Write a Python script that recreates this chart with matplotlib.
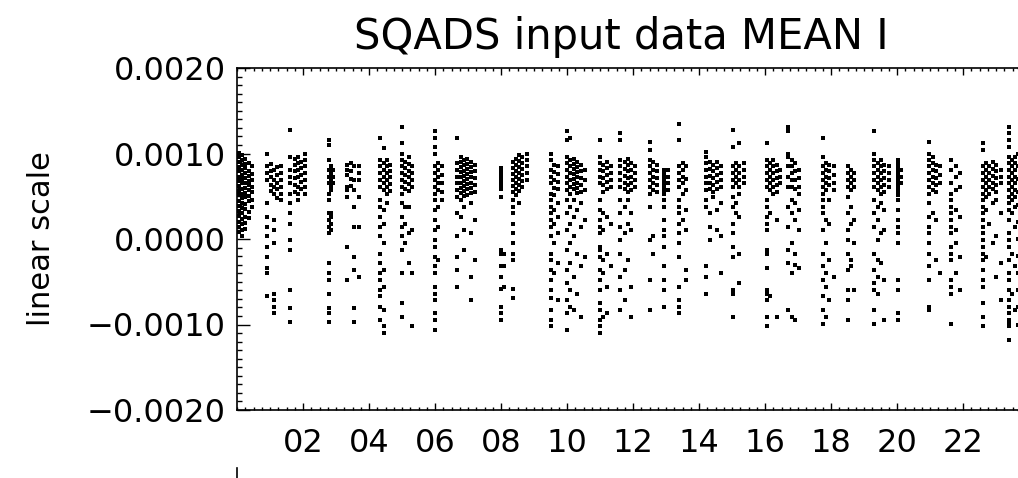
import numpy as np
import matplotlib.pyplot as plt
from matplotlib.lines import Line2D

# hour of each column of points, and the values in that column (units of 1e-4)
col_hours = [0.05, 0.15, 0.25, 0.35, 0.45,
             0.92, 1.02, 1.12, 1.22, 1.32,
             1.62, 1.75, 1.85, 1.95, 2.05,
             2.78, 2.86, 2.92,
             3.33, 3.45, 3.55, 3.70,
             4.33, 4.45, 4.55, 4.65,
             5.00, 5.10, 5.20, 5.30,
             6.00, 6.10, 6.20,
             6.68, 6.78, 6.88, 6.98, 7.08, 7.20,
             8.00, 8.08,
             8.35, 8.45, 8.55, 8.65, 8.80,
             9.50, 9.60, 9.72,
             10.00, 10.10, 10.20, 10.30, 10.42, 10.55,
             11.00, 11.10, 11.20, 11.32,
             11.62, 11.75, 11.85, 11.95, 12.05,
             12.52, 12.62, 12.72,
             12.95, 13.05,
             13.40, 13.50, 13.62,
             14.22, 14.32, 14.42, 14.55, 14.68,
             15.02, 15.12, 15.22, 15.35,
             16.05, 16.15, 16.25, 16.35, 16.45,
             16.70, 16.82, 16.92, 17.02,
             17.75, 17.85, 17.95, 18.10,
             18.50, 18.60, 18.70,
             19.30, 19.42, 19.52, 19.62, 19.75,
             20.02, 20.12,
             20.98, 21.08, 21.18, 21.30,
             21.65, 21.78, 21.92,
             22.60, 22.70, 22.80, 22.90, 23.00, 23.15,
             23.38, 23.48, 23.58, 23.66]

col_values = [
    [10.1, 9.6, 9.0, 8.4, 7.9, 7.3, 6.8, 6.2, 5.6, 5.1, 4.5, 3.9, 3.3, 2.7, 2.0, 1.4, 0.8],
    [9.8, 9.2, 8.7, 8.1, 7.5, 7.0, 6.5, 5.9, 5.3, 4.8, 4.2, 3.6, 3.0, 2.3, 1.7, 1.0, 0.4],
    [9.4, 8.8, 8.3, 7.7, 7.1, 6.6, 6.0, 5.4, 4.9, 4.1, 3.5, 2.6, 1.9, 1.2],
    [8.9, 8.0, 7.4, 6.8, 6.3, 5.7, 5.0, 4.4, 3.2, 2.4],
    [8.5, 7.6, 6.9, 6.1, 5.5, 4.6, 3.7],
    [10.0, 8.5, 7.7, 6.9, 4.2, 2.6, 1.4, 0.3, -0.9, -2.1, -3.4, -4.0, -6.7],
    [8.8, 8.0, 7.2, 6.3, 5.6],
    [8.1, 6.9, 6.1, 5.3, 2.2, 1.1, -0.5, -6.4, -7.1, -7.9, -8.7],
    [8.4, 7.5, 6.6, 5.8, 4.8],
    [8.5, 7.7, 6.9, 6.1, 5.3, 4.6],
    [12.8, 9.6, 8.1, 7.3, 6.5, 5.3, 4.2, 3.0, 1.8, -0.1, -1.3, -6.0, -8.1, -9.7],
    [9.4, 8.7, 7.9, 7.1, 6.3, 5.5],
    [9.6, 8.9, 8.1, 7.3, 6.1, 5.3, 4.6],
    [9.0, 8.3, 7.5, 6.7, 5.9],
    [10.0, 9.2, 8.5, 7.7, 6.9, 6.1, 5.3],
    [11.6, 11.0, 9.2, 8.1, 7.3, 6.5, 5.3, 4.6, 3.0, 2.2, 1.4, 0.7, -2.8, -4.0, -4.8, -6.4, -8.1, -8.7, -9.7],
    [8.5, 7.7, 6.9, 6.1, 5.7, 3.0, 2.6, 1.8, 1.1],
    [8.1, 7.3, 6.5],
    [8.7, 8.1, 7.5, 6.1, 5.7, 4.9, -0.9, -4.8],
    [8.9, 7.9, 7.0, 6.2],
    [8.5, 6.9, 5.7, 3.8, 1.4, -2.1, -3.6, -8.1, -9.7],
    [8.5, 7.7, 6.9, 4.9, 1.4, -4.4],
    [11.8, 9.2, 8.5, 7.7, 6.9, 6.1, 4.6, 3.8, 2.6, 1.4, 0.3, -1.7, -2.8, -4.0, -4.8, -6.0, -6.7, -7.9, -9.5],
    [10.6, 8.9, 8.1, 7.3, 6.5, 5.7, 3.4, 1.8, -0.5, -3.6, -5.6, -8.3, -10.2, -11.0],
    [9.2, 8.5, 7.7, 6.9, 6.1, 5.3, 4.2],
    [8.7, 8.0, 7.2, 6.4, 5.6],
    [13.1, 11.2, 10.0, 9.2, 8.5, 7.7, 6.9, 6.1, 5.3, 4.2, 2.6, 1.4, 0.3, -1.3, -4.0, -7.5, -9.1],
    [9.0, 8.3, 7.5, 6.7, 5.9, 3.8, 1.8, -0.5],
    [9.6, 8.8, 8.0, 7.2, 6.4, 5.6, 3.8, 0.7, -2.8],
    [8.5, 7.7, 6.9, 6.1, 1.1, -4.0, -10.2],
    [12.6, 11.8, 10.8, 10.0, 8.5, 7.7, 6.9, 6.1, 5.3, 4.6, 3.4, 2.2, 1.1, -0.1, -0.9, -2.1, -3.2, -4.0,
     -5.6, -6.4, -7.1, -8.7, -9.5, -10.6],
    [8.9, 8.1, 7.3, 6.5, 5.7, 3.8, 1.4, -2.5],
    [8.5, 7.5, 6.5, 5.5, 4.6],
    [11.8, 8.9, 8.1, 7.3, 6.5, 5.7, 4.9, 3.0, 0.3, -2.1, -3.6, -5.6],
    [9.6, 9.0, 8.4, 7.8, 7.2, 6.6, 6.0, 5.4, 4.6, 2.6],
    [9.2, 8.6, 8.0, 7.4, 6.8, 6.2, 5.6, 5.0, 3.8, 1.1, -1.3],
    [9.4, 8.8, 8.2, 7.6, 7.0, 6.4, 5.8, 5.2],
    [9.0, 8.4, 7.8, 7.2, 6.6, 6.0, 5.4, 4.2, 0.7, -4.4, -7.1],
    [8.7, 7.9, 7.1, 6.3, 5.5, 2.2, -2.5],
    [8.3, 8.0, 7.7, 7.4, 7.1, 6.8, 6.5, 6.2, 5.9, 4.9, -1.3, -1.7, -3.2, -4.4, -5.8, -7.9, -8.7, -9.5],
    [-1.7, -3.2, -5.6],
    [9.0, 8.3, 7.6, 6.9, 6.2, 5.5, 4.6, 3.8, 3.0, 1.8, 0.7, -0.5, -1.7, -2.5, -5.8, -6.9],
    [9.4, 8.7, 8.0, 7.3, 6.6, 5.9, 5.2],
    [9.8, 9.1, 8.4, 7.7, 7.0, 6.3, 5.6, 4.2],
    [9.6, 8.9, 8.2, 7.5, 6.8, 6.1],
    [10.0, 9.2, 8.5, 7.7, 6.9],
    [10.0, 9.2, 8.1, 7.3, 6.5, 5.3, 4.6, 3.8, 3.0, 2.2, 1.4, 0.3, -1.7, -2.5, -3.6, -4.8, -6.0, -6.9,
     -8.3, -9.5, -10.2],
    [8.7, 7.8, 6.9, 6.0, 5.1, 3.4, 1.8, -0.5, -4.0],
    [8.5, 7.6, 6.7, 5.8, 4.2, 2.6, 0.7, -2.8, -7.1],
    [12.6, 11.6, 9.6, 8.9, 8.1, 7.3, 6.5, 5.7, 4.6, 3.0, 1.1, -1.3, -3.6, -5.2, -7.1, -8.7, -10.6],
    [11.8, 9.2, 8.5, 7.7, 6.9, 6.1, 5.3, 3.8, 1.8, -0.5, -2.8, -6.0, -7.9],
    [9.4, 8.8, 8.2, 7.6, 7.0, 6.4, 5.8, 4.6, 2.6, 0.3, -4.4, -8.3],
    [9.0, 8.4, 7.8, 7.2, 6.6, 6.0, 5.4, 3.4, -1.7, -6.4],
    [8.7, 7.9, 7.1, 6.3, 5.5, 4.2, 1.4, -3.2, -9.1],
    [8.1, 6.9, 5.7, 2.2, -2.1],
    [11.6, 9.6, 8.9, 8.1, 7.3, 6.5, 4.6, 3.4, 2.2, 1.4, 0.7, -0.9, -1.3, -2.1, -3.6, -4.8, -6.0, -7.5,
     -8.3, -9.5, -10.2, -11.0],
    [8.7, 7.9, 7.1, 6.3, 5.5, 3.0, 1.1, -2.5, -4.0, -9.1],
    [9.0, 8.3, 7.5, 6.7, 5.9, 2.6, -1.7, -5.6, -8.7],
    [8.5, 7.7, 6.9, 6.1, 1.8, -3.2],
    [12.4, 11.6, 9.2, 8.5, 7.7, 6.9, 6.1, 4.6, 3.0, 1.4, -0.1, -1.7, -4.4, -6.0, -8.3],
    [9.0, 8.2, 7.4, 6.6, 5.8, 3.8, 0.7, -3.6, -7.1],
    [9.4, 8.7, 7.9, 7.1, 6.3, 5.5, 4.6, 1.8, -2.5],
    [8.9, 8.1, 7.3, 6.5, 5.7, 3.0, 1.1, -5.6, -9.1],
    [8.5, 7.7, 6.9, 6.1],
    [11.4, 10.4, 9.2, 8.5, 7.7, 6.9, 6.1, 5.3, 3.8, -0.1, -4.8, -8.3],
    [9.0, 8.1, 7.3, 6.5, 5.7, 0.3, -1.7],
    [8.7, 7.9, 7.1, 6.3, 5.5],
    [8.1, 7.7, 7.3, 6.9, 6.5, 6.1, 5.7, 5.3, 4.6, 3.8, 2.2, 1.1, 0.3, -0.9, -3.2, -4.8, -6.0, -7.9],
    [8.1, 7.3, 6.5, 5.7],
    [13.5, 11.6, 8.5, 7.7, 6.9, 6.1, 4.6, 3.8, 3.0, 1.8, 0.7, -0.5, -2.1, -5.6, -7.1, -7.9, -8.7],
    [8.9, 8.1, 7.3, 6.5, 5.3, 2.2],
    [8.5, 7.0, 5.7, 3.4, 1.1, -3.6, -4.8],
    [10.2, 9.6, 8.9, 8.1, 7.3, 6.5, 5.7, 4.6, 3.8, -3.2, -4.4, -6.4],
    [9.0, 8.2, 7.4, 6.6, 5.8, 3.0, 1.4, -0.1],
    [8.7, 7.9, 7.1, 6.3, 5.5, 4.9],
    [9.0, 8.3, 7.5, 6.7, 5.9, 3.4, 1.1],
    [8.5, 7.7, 6.9, 6.1, 4.2, 0.3, -4.0],
    [12.8, 10.8, 8.5, 7.7, 6.9, 6.1, 4.9, 3.8, 1.8, 0.7, -0.9, -2.1, -6.0, -6.4, -9.1],
    [8.9, 8.1, 7.3, 6.5, 4.2, 3.0],
    [11.2, 8.5, 7.7, 6.9, 6.1, 5.3, 2.6, -1.7, -5.2],
    [8.9, 8.1, 7.3, 6.5],
    [11.2, 9.2, 8.5, 7.7, 6.9, 6.1, 4.6, 3.8, 2.6, 1.8, 1.1, -1.3, -1.7, -3.4, -6.0, -6.4, -7.1, -9.1, -10.2],
    [8.9, 8.1, 7.3, 6.5, 5.7, 3.0, -6.7],
    [9.2, 8.5, 7.7, 6.9, 6.1, 5.3],
    [8.7, 7.9, 7.1, 6.3, 5.5, 2.2, -9.1],
    [8.1, 7.3, 6.5],
    [13.1, 12.6, 10.0, 9.6, 8.5, 7.3, 6.1, 3.8, 1.4, -1.3, -2.8, -8.3],
    [9.2, 8.5, 7.7, 6.9, 6.1, 4.6, 3.0, -0.5, -4.0, -9.1],
    [8.9, 7.9, 6.9, 5.9, 4.2, 2.2, -1.7, -3.0, -9.5],
    [8.1, 7.1, 6.1, 5.3, 3.4, 1.1, -3.4],
    [11.8, 9.6, 8.5, 7.7, 6.9, 6.1, 5.3, 4.6, 3.8, 3.0, 1.1, -1.7, -3.2, -4.8, -6.7, -8.3, -9.9],
    [8.9, 8.1, 7.3, 6.5, 5.7, 2.2, -0.5, -4.0, -5.6, -9.1],
    [8.7, 7.9, 7.1, 6.3, 4.6, 1.8, -2.5, -7.1],
    [8.5, 7.5, 6.5, 5.7, -4.4],
    [8.5, 7.7, 6.9, 6.1, 4.9, 3.0, 1.1, -0.1, -1.7, -3.6, -6.0, -7.1, -9.5],
    [8.1, 7.3, 6.5, 5.7, 3.8, 1.8, -2.5, -3.2],
    [7.7, 6.9, 6.1, 2.2, -0.5, -6.0],
    [12.6, 10.0, 9.2, 8.5, 7.7, 6.9, 6.1, 4.6, 3.0, 1.4, -1.7, -3.6, -5.2, -6.0, -8.3, -9.9],
    [8.9, 8.1, 7.3, 6.5, 5.7, 3.8, 2.2, -0.1, -2.5, -4.4, -6.4],
    [9.2, 8.5, 7.7, 6.9, 6.1, 5.3, 4.2, 0.7, -2.8],
    [8.7, 7.9, 7.1, 6.3, 5.5, 3.4, 1.1, -4.8, -9.5],
    [8.5, 7.7, 6.9, 6.1],
    [9.2, 8.8, 8.4, 8.0, 7.6, 7.2, 6.8, 6.4, 6.0, 5.6, 5.2, 4.6, 3.4, 2.2, 1.4, 0.7, -0.5, -4.8, -6.0,
     -8.7, -9.5],
    [8.1, 7.3, 6.5],
    [11.4, 10.0, 9.2, 8.5, 7.7, 6.9, 6.1, 5.3, 4.2, 2.6, 1.4, 0.7, -0.5, -1.7, -3.2, -4.8, -7.9, -8.3],
    [9.6, 8.9, 8.1, 7.3, 6.5, 5.7, 3.0],
    [8.7, 7.9, 7.1, 6.3, 5.5, 2.2, -2.5],
    [8.5, 7.5, 6.5, -4.0],
    [9.2, 8.1, 6.5, 5.3, 4.6, 3.8, 3.0, 2.2, 1.4, 0.7, -0.9, -1.7, -2.5, -4.8, -5.6, -6.4, -9.9],
    [8.5, 7.3, 5.7, 3.4, 1.1, -0.5, -4.0],
    [7.7, 6.1, 2.6, -2.1, -6.0],
    [11.2, 10.4, 8.5, 7.7, 6.9, 6.1, 5.3, 4.6, 3.8, 3.0, 2.2, 1.4, 0.7, -0.1, -0.9, -1.7, -2.5, -3.6,
     -4.8, -5.6, -7.5, -9.1, -10.2],
    [8.9, 8.1, 7.3, 6.5, 5.7, 4.9, 3.4, -2.1],
    [8.5, 7.7, 6.9, 6.1, 5.3, 1.8],
    [9.0, 8.2, 7.4, 6.6, 5.8, 4.2, -0.5],
    [8.7, 7.9, 7.1, 6.3, 5.5, 4.6, 0.3, -4.4],
    [8.1, 7.3, 6.5, 3.0, -2.8, -7.1],
    [13.1, 12.4, 11.6, 10.8, 9.6, 8.9, 8.1, 7.3, 6.5, 5.7, 4.9, 4.2, 3.4, 2.2, 0.7, -0.1, -0.9, -2.5,
     -4.0, -4.8, -6.0, -7.1, -7.9, -8.7, -9.5, -9.9, -10.2, -11.8],
    [9.2, 8.5, 7.7, 6.9, 6.1, 5.3, 4.6, 3.0, -1.7, -6.4],
    [9.6, 8.9, 8.1, 7.3, 6.5, 5.7, 4.9, 3.8, 1.4, -3.2, -8.3],
    [10.0, 8.5, 7.0, 5.5, 4.0, 2.0, 0.0, -2.0, -4.0, -6.0, -8.0, -10.0],
]

xtick_hours = [2, 4, 6, 8, 10, 12, 14, 16, 18, 20, 22]
xtick_labels = ['02', '04', '06', '08', '10', '12', '14', '16', '18', '20', '22']
ytick_vals = [-0.002, -0.001, 0.0, 0.001, 0.002]
ytick_labels = ['\u22120.0020', '\u22120.0010', '0.0000', '0.0010', '0.0020']

plt.rcParams['font.family'] = ['DejaVu Sans']

fig = plt.figure(figsize=(10.18, 4.78), dpi=100)
# axes runs on past the right edge of the picture (hour 24 is cut off)
ax = fig.add_axes([237 / 1018, 68 / 478, 792 / 1018, 342 / 478])

xs, ys = [], []
for h, vals in zip(col_hours, col_values):
    for v in vals:
        xs.append(h)
        ys.append(v * 1e-4)
ax.plot(xs, ys, linestyle='none', marker='s', ms=2.2, mew=0, color='black')

ax.set_xlim(0, 24)
ax.set_ylim(-0.002, 0.002)
ax.set_xticks(xtick_hours)
ax.set_xticklabels(xtick_labels)
ax.set_xticks(np.arange(0, 24.01, 0.25), minor=True)
ax.set_yticks(ytick_vals)
ax.set_yticklabels(ytick_labels)
ax.set_yticks(np.arange(-0.002, 0.00201, 0.0001), minor=True)

ax.tick_params(axis='both', which='both', direction='in', top=True, right=True,
               labelsize=23, width=1)
ax.tick_params(axis='x', which='major', length=5, pad=13)
ax.tick_params(axis='x', which='minor', length=2)
ax.tick_params(axis='y', which='major', length=9, pad=8)
ax.tick_params(axis='y', which='minor', length=3.5)
for s in ax.spines.values():
    s.set_linewidth(1.2)

ax.set_ylabel('linear scale', fontsize=22, labelpad=22)
fig.text(621 / 1018, 1 - 37 / 478, 'SQADS input data MEAN I', fontsize=30,
         ha='center', va='center')

# small cut-off mark under the left end of the axis
fig.add_artist(Line2D([237 / 1018, 237 / 1018], [0, 10 / 478], color='black', lw=1.2))

fig.savefig('out.png', dpi=100)
